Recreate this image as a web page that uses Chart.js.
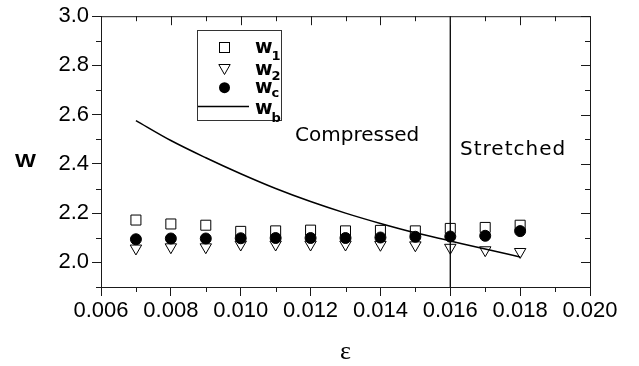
<!DOCTYPE html>
<html>
<head>
<meta charset="utf-8">
<script src="https://cdn.jsdelivr.net/npm/chart.js@4/dist/chart.umd.min.js"></script>
<style>
  html, body { margin: 0; padding: 0; background: #fff; }
  #wrap { width: 639px; height: 366px; }
</style>
</head>
<body>
<div id="wrap"><canvas id="chart" width="639" height="366"></canvas></div>
<script>
// strain values (x) and the four width series
const epsilon = [0.007, 0.008, 0.009, 0.010, 0.011, 0.012, 0.013, 0.014, 0.015, 0.016, 0.017, 0.018];
const w1 = [2.172, 2.156, 2.151, 2.126, 2.128, 2.131, 2.128, 2.130, 2.128, 2.138, 2.142, 2.151];
const w2 = [2.057, 2.062, 2.062, 2.073, 2.073, 2.073, 2.073, 2.072, 2.070, 2.060, 2.050, 2.043];
const wc = [2.094, 2.097, 2.097, 2.098, 2.099, 2.099, 2.099, 2.101, 2.104, 2.105, 2.108, 2.127];
const wb = [2.576, 2.495, 2.425, 2.360, 2.300, 2.247, 2.200, 2.158, 2.120, 2.087, 2.054, 2.022];

// compressed / stretched boundary
const boundaryEps = 0.016;

// axes
const xMin = 0.006, xMax = 0.020;
const yMin = 1.9, yMax = 3.0;
const xTicks = [0.006, 0.008, 0.010, 0.012, 0.014, 0.016, 0.018, 0.020];
const yTicks = [2.0, 2.2, 2.4, 2.6, 2.8, 3.0];
const xMinorTicks = [0.007, 0.009, 0.011, 0.013, 0.015, 0.017, 0.019];
const yMinorTicks = [1.9, 2.1, 2.3, 2.5, 2.7, 2.9];

const ink = "#1a1a1a";
const pts = (ys) => epsilon.map((e, i) => ({ x: e, y: ys[i] }));

// frame, minor ticks, annotations, legend and axis titles
const decor = {
    id: "decor",
    afterDraw(chart) {
        const { ctx, chartArea: a, scales: { x, y } } = chart;
        ctx.save();
        ctx.strokeStyle = ink;
        ctx.lineWidth = 1;
        ctx.beginPath();
        // top and right frame
        ctx.moveTo(a.left, a.top + 0.5);
        ctx.lineTo(a.right + 0.5, a.top + 0.5);
        ctx.lineTo(a.right + 0.5, a.bottom);
        // top ticks (inward)
        xTicks.forEach(v => { const p = Math.round(x.getPixelForValue(v)) + 0.5; ctx.moveTo(p, a.top); ctx.lineTo(p, a.top + 9); });
        xMinorTicks.forEach(v => {
            const p = Math.round(x.getPixelForValue(v)) + 0.5;
            ctx.moveTo(p, a.top); ctx.lineTo(p, a.top + 5);
            ctx.moveTo(p, a.bottom); ctx.lineTo(p, a.bottom + 5);
        });
        // right ticks (inward)
        yTicks.forEach(v => { const p = Math.round(y.getPixelForValue(v)) + 0.5; ctx.moveTo(a.right, p); ctx.lineTo(a.right - 9, p); });
        yMinorTicks.forEach(v => {
            const p = Math.round(y.getPixelForValue(v)) + 0.5;
            ctx.moveTo(a.right, p); ctx.lineTo(a.right - 5, p);
            ctx.moveTo(a.left, p); ctx.lineTo(a.left - 5, p);
        });
        ctx.stroke();

        // region labels
        ctx.fillStyle = "#000";
        ctx.textBaseline = "alphabetic";
        ctx.textAlign = "left";
        ctx.font = "20px 'DejaVu Sans'";
        ctx.fillText("Compressed", 295, 141);
        ctx.letterSpacing = "1px";
        ctx.fillText("Stretched", 460, 155);
        ctx.letterSpacing = "0px";

        // legend box
        ctx.lineWidth = 1;
        ctx.strokeStyle = "#333";
        ctx.strokeRect(197.5, 30.5, 84, 90);
        ctx.strokeStyle = "#000";
        const sx = 224.5;
        // square
        ctx.strokeRect(sx - 5, 42.5, 10, 10);
        // down triangle
        ctx.beginPath();
        ctx.moveTo(sx - 5.7, 64.5); ctx.lineTo(sx + 5.7, 64.5); ctx.lineTo(sx, 74.5); ctx.closePath();
        ctx.stroke();
        // circle
        ctx.beginPath(); ctx.arc(sx, 87.7, 5.5, 0, Math.PI * 2); ctx.fill();
        // line
        ctx.lineWidth = 1.5;
        ctx.beginPath(); ctx.moveTo(198, 106.5); ctx.lineTo(249, 106.5); ctx.stroke();

        const labels = [["1", 53, 60], ["2", 75, 80], ["c", 93, 97], ["b", 114, 122]];
        labels.forEach(([sub, base, subBase]) => {
            ctx.font = "bold 19px 'DejaVu Sans'";
            ctx.fillText("w", 255, base);
            const w = ctx.measureText("w").width;
            ctx.font = "bold 13px 'DejaVu Sans'";
            ctx.fillText(sub, 255 + w - 1, subBase);
        });

        // axis titles
        ctx.font = "bold 18.5px 'Liberation Sans'";
        ctx.textAlign = "center";
        ctx.save();
        ctx.translate(25.5, 166.7);
        ctx.scale(1.2, 1);
        ctx.fillText("W", 0, 0);
        ctx.restore();
        ctx.font = "26px 'Liberation Serif'";
        ctx.textBaseline = "middle";
        ctx.fillText("\u03b5", (a.left + a.right) / 2, 352);
        ctx.restore();
    }
};

const markerBase = { showLine: false, borderColor: "#000", borderWidth: 1 };
const tickFont = { family: "'Liberation Sans'", size: 22 };

new Chart(document.getElementById("chart"), {
    type: "scatter",
    data: {
        datasets: [
            { ...markerBase, label: "wc", data: pts(wc), pointStyle: "circle", pointRadius: 5.5, backgroundColor: "#000", order: 0 },
            { ...markerBase, label: "w2", data: pts(w2), pointStyle: "triangle", rotation: 180, pointRadius: 6.6, backgroundColor: "rgba(0,0,0,0)", order: 1 },
            { ...markerBase, label: "w1", data: pts(w1), pointStyle: "rect", pointRadius: 7.07, backgroundColor: "rgba(0,0,0,0)", order: 2 },
            { label: "wb", data: pts(wb), showLine: true, pointRadius: 0, borderColor: "#000", borderWidth: 1.5, cubicInterpolationMode: "monotone", order: 3 },
            { label: "boundary", data: [{ x: boundaryEps, y: yMin }, { x: boundaryEps, y: yMax }], showLine: true, pointRadius: 0, borderColor: "#000", borderWidth: 1.3, order: 4 },
        ],
    },
    options: {
        responsive: false,
        animation: false,
        events: [],
        layout: { padding: { top: 15, right: 49, left: 0, bottom: 0 } },
        plugins: { legend: { display: false }, tooltip: { enabled: false } },
        scales: {
            x: {
                type: "linear",
                min: xMin,
                max: xMax,
                afterFit: s => { s.height = 79; },
                afterBuildTicks: s => { s.ticks = xTicks.map(v => ({ value: v })); },
                ticks: { color: "#000", font: tickFont, padding: 2, maxRotation: 0, callback: v => v.toFixed(3) },
                grid: { drawOnChartArea: false, tickLength: 9, color: ink },
                border: { color: ink, width: 1 },
            },
            y: {
                type: "linear",
                min: yMin,
                max: yMax,
                afterFit: s => { s.width = 101; },
                afterBuildTicks: s => { s.ticks = yTicks.map(v => ({ value: v })); },
                ticks: { color: "#000", font: tickFont, padding: 3, callback: v => v.toFixed(1) },
                grid: { drawOnChartArea: false, tickLength: 9, color: ink },
                border: { color: ink, width: 1 },
            },
        },
    },
    plugins: [decor],
});
</script>
</body>
</html>
